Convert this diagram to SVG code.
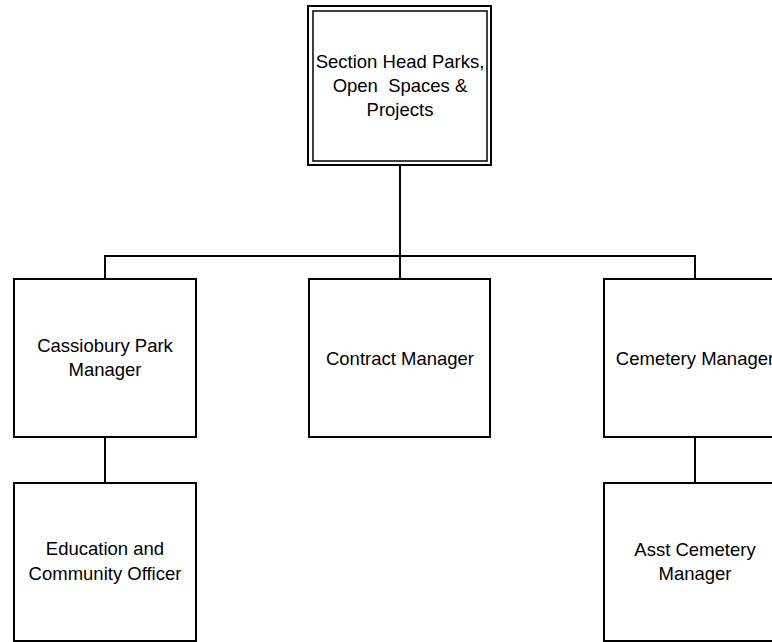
<svg xmlns="http://www.w3.org/2000/svg" width="772" height="642" viewBox="0 0 772 642">
<style>
.box{fill:#fff;stroke:#000;stroke-width:2}
.inner{fill:none;stroke:#000;stroke-width:1.5}
.conn{fill:none;stroke:#000;stroke-width:2}
text{font-family:"Liberation Sans",Arial,sans-serif;font-size:18.5px;fill:#000;text-anchor:middle}
</style>
<rect width="772" height="642" fill="#fff"/>
<g id="connectors">
<path class="conn" d="M400,165 V256"/>
<path class="conn" d="M105,279 V256 H695 V279"/>
<path class="conn" d="M400,256 V279"/>
<path class="conn" d="M105,437 V483"/>
<path class="conn" d="M695,437 V483"/>
</g>
<g id="head">
<rect class="box" x="308" y="6" width="183" height="159"/>
<rect class="inner" x="313" y="11" width="174" height="150"/>
<text x="400" y="68">Section Head Parks,</text>
<text x="400" y="92" xml:space="preserve">Open  Spaces &amp;</text>
<text x="400" y="116">Projects</text>
</g>
<g id="cassiobury">
<rect class="box" x="14" y="279" width="182" height="158"/>
<text x="105" y="352">Cassiobury Park</text>
<text x="105" y="376">Manager</text>
</g>
<g id="contract">
<rect class="box" x="309" y="279" width="181" height="158"/>
<text x="400" y="365">Contract Manager</text>
</g>
<g id="cemetery">
<rect class="box" x="604" y="279" width="182" height="158"/>
<text x="695" y="365">Cemetery Manager</text>
</g>
<g id="education">
<rect class="box" x="14" y="483" width="182" height="158"/>
<text x="105" y="555">Education and</text>
<text x="105" y="580">Community Officer</text>
</g>
<g id="asst">
<rect class="box" x="604" y="483" width="182" height="158"/>
<text x="695" y="556">Asst Cemetery</text>
<text x="695" y="580">Manager</text>
</g>
</svg>
